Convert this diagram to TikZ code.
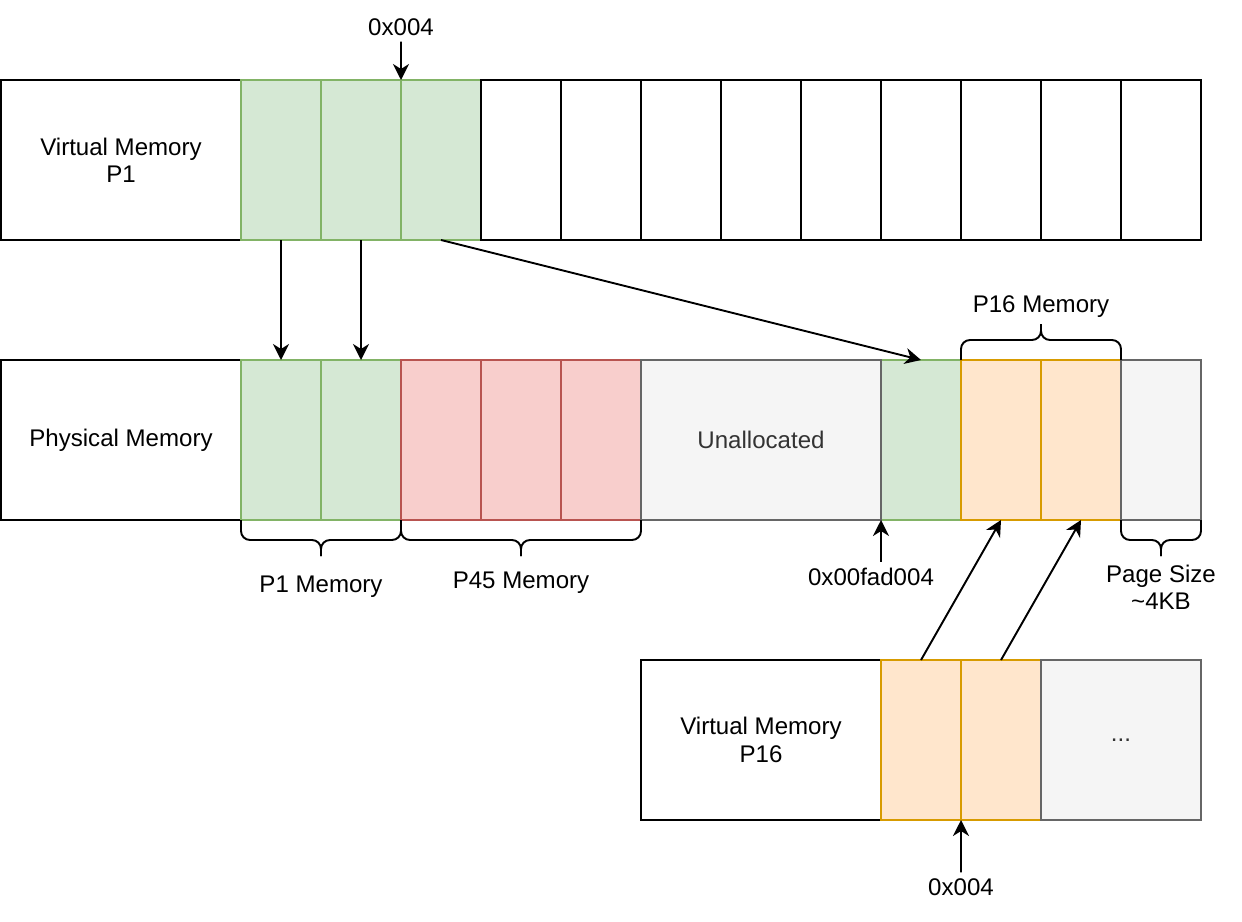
\documentclass[tikz,border=0pt]{standalone}
\usepackage{fontspec}
\setmainfont{Liberation Sans}
\usetikzlibrary{arrows.meta}

\definecolor{pgreen}{HTML}{D5E8D4}
\definecolor{pgreenline}{HTML}{82B366}
\definecolor{pred}{HTML}{F8CECC}
\definecolor{predline}{HTML}{B85450}
\definecolor{pgray}{HTML}{F5F5F5}
\definecolor{pgrayline}{HTML}{666666}
\definecolor{pgraytext}{HTML}{333333}
\definecolor{porange}{HTML}{FFE6CC}
\definecolor{porangeline}{HTML}{D79B00}

\tikzset{
  page/.style={draw, line width=1.1pt, minimum width=1.6cm, minimum height=3.2cm,
    inner sep=0pt, outer sep=0pt, align=center},
  namebox/.style={page, minimum width=4.8cm},
  greenpage/.style={page, fill=pgreen, draw=pgreenline},
  redpage/.style={page, fill=pred, draw=predline},
  orangepage/.style={page, fill=porange, draw=porangeline},
  graypage/.style={page, fill=pgray, draw=pgrayline, text=pgraytext},
  arr/.style={-{Stealth[length=0.32cm, width=0.32cm, inset=0.1cm]}, line width=1.1pt},
  brc/.style={line width=1.1pt, rounded corners=0.18cm}
}

\begin{document}
\begin{tikzpicture}[node distance=1.6cm, font=\fontsize{13.7}{15.5}\selectfont]
\useasboundingbox (0,0) rectangle (24.84,-18.44);

%virtual memory P1
\node[namebox] (VM1) at (2.42,-3.2) {Virtual Memory\\P1};
\node[greenpage] (V1) [right of=VM1, node distance=3.2cm] {};
\node[greenpage] (V2) [right of=V1] {};
\node[greenpage] (V3) [right of=V2] {};
\node[page] (F1) [right of=V3] {};
\node[page] (F2) [right of=F1] {};
\node[page] (F3) [right of=F2] {};
\node[page] (F4) [right of=F3] {};
\node[page] (F5) [right of=F4] {};
\node[page] (F6) [right of=F5] {};
\node[page] (F7) [right of=F6] {};
\node[page] (F8) [right of=F7] {};
\node[page] (F9) [right of=F8] {};

%physical memory
\node[namebox] (PM) at (2.42,-8.8) {Physical Memory};
\node[greenpage] (P1a) [right of=PM, node distance=3.2cm] {};
\node[greenpage] (P1b) [right of=P1a] {};
\node[redpage] (P45a) [right of=P1b] {};
\node[redpage] (P45b) [right of=P45a] {};
\node[redpage] (P45c) [right of=P45b] {};
\node[greenpage] (G1) [right of=P45c, node distance=6.4cm] {};
\node[graypage, minimum width=4.8cm] (UN) [left of=G1, node distance=3.2cm] {Unallocated};
\node[orangepage] (P16a) [right of=G1] {};
\node[orangepage] (P16b) [right of=P16a] {};
\node[graypage] (PS) [right of=P16b] {};

%virtual memory P16
\node[namebox] (VM16) at (15.22,-14.8) {Virtual Memory\\P16};
\node[orangepage] (O1) [right of=VM16, node distance=3.2cm] {};
\node[orangepage] (O2) [right of=O1] {};
\node[graypage, minimum width=3.2cm] (MORE) [right of=O2, node distance=2.4cm] {...};

%labels
\node (A1) at (8.02,-0.54) {0x004};
\node (A2) at (19.22,-17.74) {0x004};
\node (ADDR) at (17.42,-11.54) {0x00fad004};
\node (LP1) at (6.42,-11.74) {P1 Memory};
\node (LP45) at (10.42,-11.66) {P45 Memory};
\node (LP16) at (20.82,-6.14) {P16 Memory};
\node[align=center] (LPS) at (23.22,-11.74) {Page Size\\\textasciitilde4KB};

%links
\draw[arr] (A1) -- (V3.north west);
\draw[arr] (V1.south) -- (P1a.north);
\draw[arr] (V2.south) -- (P1b.north);
\draw[arr] (V3.south) -- (G1.north);
\draw[arr] (ADDR.north -| G1.south west) -- (G1.south west);
\draw[arr] (O1.north) -- (P16a.south);
\draw[arr] (O2.north) -- (P16b.south);
\draw[arr] (A2) -- (O2.south west);

%braces
\draw[brc] (P1a.south west) -- ++(0,-0.4) -| ++(1.6,-0.32);
\draw[brc] (P1b.south east) -- ++(0,-0.4) -| ++(-1.6,-0.32);
\draw[brc] (P45a.south west) -- ++(0,-0.4) -| ++(2.4,-0.32);
\draw[brc] (P45c.south east) -- ++(0,-0.4) -| ++(-2.4,-0.32);
\draw[brc] (P16a.north west) -- ++(0,0.4) -| ++(1.6,0.32);
\draw[brc] (P16b.north east) -- ++(0,0.4) -| ++(-1.6,0.32);
\draw[brc] (PS.south west) -- ++(0,-0.4) -| ++(0.8,-0.32);
\draw[brc] (PS.south east) -- ++(0,-0.4) -| ++(-0.8,-0.32);
\end{tikzpicture}
\end{document}
